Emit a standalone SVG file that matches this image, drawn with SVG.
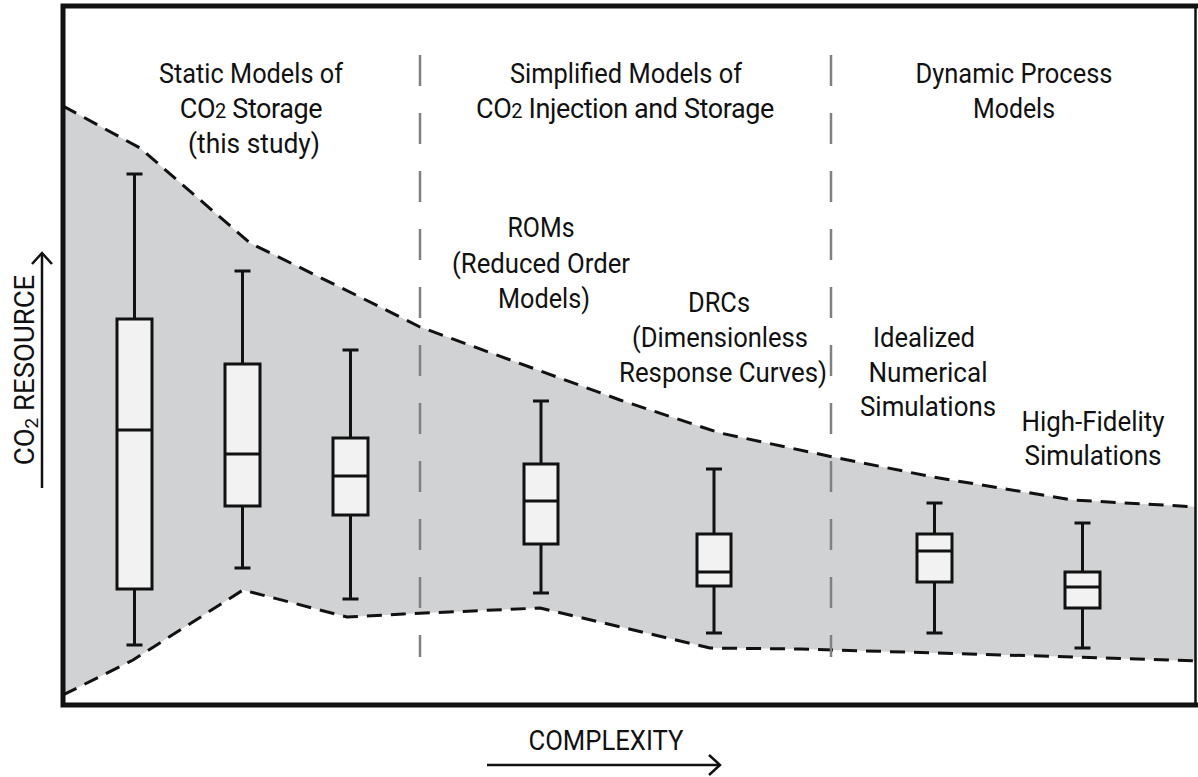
<svg xmlns="http://www.w3.org/2000/svg" width="1198" height="777" viewBox="0 0 1198 777">
  <defs>
    <style>
      .lbl { font-family: Roboto, "Liberation Sans", sans-serif; font-size: 27.5px; fill: #111; text-anchor: middle; }
      .co2 { font-size: 27px; letter-spacing: -0.4px; }
      .bound { fill: none; stroke: #111; stroke-width: 3; stroke-dasharray: 15 9; stroke-linejoin: round; }
      .divider { stroke: #808080; stroke-width: 2.5; stroke-dasharray: 31 27; }
      .box { fill: #f2f2f2; stroke: #111; stroke-width: 3; }
      .wh { stroke: #111; stroke-width: 3; fill: none; }
      .axis { stroke: #111; stroke-width: 2.5; fill: none; }
    </style>
    <marker id="open-arrow" viewBox="0 0 14 22" refX="12" refY="11" markerWidth="14" markerHeight="22" markerUnits="userSpaceOnUse" orient="auto">
      <path d="M1,1 L12,11 L1,21" fill="none" stroke="#111" stroke-width="2.5"/>
    </marker>
    <clipPath id="plot-area">
      <rect x="63" y="6" width="1132" height="699"/>
    </clipPath>
  </defs>

  <rect x="0" y="0" width="1198" height="777" fill="#ffffff"/>

  <!-- uncertainty envelope -->
  <g id="envelope" clip-path="url(#plot-area)">
    <path fill="#d1d2d4" d="M63,106 L140,148 L250,243 L360,297 L420,327 L620,400 L720,433 L833,457 L933,477 L1073,500 L1198,507 L1198,661 L1073,657 L800,649 L710,648 L540,608 L403,614 L347,617 L243,590 L133,660 L63,695 Z"/>
    <path class="bound" d="M63,106 L140,148 L250,243 L360,297 L420,327 L620,400 L720,433 L833,457 L933,477 L1073,500 L1198,507"/>
    <path class="bound" d="M63,695 L133,660 L243,590 L347,617 L403,614 L540,608 L710,648 L800,649 L1073,657 L1198,661"/>
  </g>

  <!-- category dividers -->
  <g id="dividers">
    <line class="divider" x1="420" y1="55" x2="420" y2="657"/>
    <line class="divider" x1="831" y1="55" x2="831" y2="657"/>
  </g>

  <!-- frame -->
  <g id="frame">
    <path d="M1198,6 H63 V705 H1198" fill="none" stroke="#111" stroke-width="5"/>
    <line x1="1195.5" y1="6" x2="1195.5" y2="705" stroke="#111" stroke-width="2.5"/>
  </g>

  <!-- box plots -->
  <g id="box-static-1">
    <path class="wh" d="M134.5,174 V319 M134.5,589 V645 M126.5,174 H142.5 M126.5,645 H142.5"/>
    <rect class="box" x="117" y="319" width="35" height="270"/>
    <line class="wh" x1="117" y1="430" x2="152" y2="430"/>
  </g>
  <g id="box-static-2">
    <path class="wh" d="M242.5,271 V364 M242.5,506 V568 M234.5,271 H250.5 M234.5,568 H250.5"/>
    <rect class="box" x="225" y="364" width="35" height="142"/>
    <line class="wh" x1="225" y1="454" x2="260" y2="454"/>
  </g>
  <g id="box-static-3">
    <path class="wh" d="M350.5,350 V438 M350.5,515 V599 M342.5,350 H358.5 M342.5,599 H358.5"/>
    <rect class="box" x="333" y="438" width="35" height="77"/>
    <line class="wh" x1="333" y1="476" x2="368" y2="476"/>
  </g>
  <g id="box-roms">
    <path class="wh" d="M541,401 V464 M541,544 V593 M533,401 H549 M533,593 H549"/>
    <rect class="box" x="524" y="464" width="34" height="80"/>
    <line class="wh" x1="524" y1="501" x2="558" y2="501"/>
  </g>
  <g id="box-drcs">
    <path class="wh" d="M714,469 V534 M714,586 V633 M706,469 H722 M706,633 H722"/>
    <rect class="box" x="697" y="534" width="34" height="52"/>
    <line class="wh" x1="697" y1="572" x2="731" y2="572"/>
  </g>
  <g id="box-idealized">
    <path class="wh" d="M934.5,503 V534 M934.5,582 V633 M926.5,503 H942.5 M926.5,633 H942.5"/>
    <rect class="box" x="917" y="534" width="35" height="48"/>
    <line class="wh" x1="917" y1="551" x2="952" y2="551"/>
  </g>
  <g id="box-high-fidelity">
    <path class="wh" d="M1082.5,523 V572 M1082.5,608 V648 M1074.5,523 H1090.5 M1074.5,648 H1090.5"/>
    <rect class="box" x="1065" y="572" width="35" height="36"/>
    <line class="wh" x1="1065" y1="587" x2="1100" y2="587"/>
  </g>

  <!-- category headings -->
  <g id="heading-static">
    <text class="lbl" x="251" y="83" textLength="184" lengthAdjust="spacingAndGlyphs">Static Models of</text>
    <text class="lbl co2" x="251" y="118">CO<tspan font-size="20">2</tspan> Storage</text>
    <text class="lbl" x="254" y="153" textLength="132" lengthAdjust="spacingAndGlyphs">(this study)</text>
  </g>
  <g id="heading-simplified">
    <text class="lbl" x="626" y="83" textLength="232" lengthAdjust="spacingAndGlyphs">Simplified Models of</text>
    <text class="lbl co2" x="625" y="118">CO<tspan font-size="20">2</tspan> Injection and Storage</text>
  </g>
  <g id="heading-dynamic">
    <text class="lbl" x="1014" y="83" textLength="197" lengthAdjust="spacingAndGlyphs">Dynamic Process</text>
    <text class="lbl" x="1014" y="118" textLength="82" lengthAdjust="spacingAndGlyphs">Models</text>
  </g>

  <!-- model labels -->
  <g id="label-roms">
    <text class="lbl" x="541" y="237" textLength="67" lengthAdjust="spacingAndGlyphs">ROMs</text>
    <text class="lbl" x="541" y="273" textLength="178" lengthAdjust="spacingAndGlyphs">(Reduced Order</text>
    <text class="lbl" x="544" y="308" textLength="92" lengthAdjust="spacingAndGlyphs">Models)</text>
  </g>
  <g id="label-drcs">
    <text class="lbl" x="719" y="312" textLength="62" lengthAdjust="spacingAndGlyphs">DRCs</text>
    <text class="lbl" x="720" y="347" textLength="176" lengthAdjust="spacingAndGlyphs">(Dimensionless</text>
    <text class="lbl" x="723" y="382" textLength="208" lengthAdjust="spacingAndGlyphs">Response Curves)</text>
  </g>
  <g id="label-idealized">
    <text class="lbl" x="924" y="347" textLength="102" lengthAdjust="spacingAndGlyphs">Idealized</text>
    <text class="lbl" x="928" y="382" textLength="119" lengthAdjust="spacingAndGlyphs">Numerical</text>
    <text class="lbl" x="928" y="416" textLength="136" lengthAdjust="spacingAndGlyphs">Simulations</text>
  </g>
  <g id="label-high-fidelity">
    <text class="lbl" x="1093" y="431" textLength="143" lengthAdjust="spacingAndGlyphs">High-Fidelity</text>
    <text class="lbl" x="1093" y="465" textLength="137" lengthAdjust="spacingAndGlyphs">Simulations</text>
  </g>

  <!-- axes -->
  <g id="connectors">
    <line class="axis" x1="42" y1="488" x2="42" y2="253" marker-end="url(#open-arrow)"/>
    <line class="axis" x1="487" y1="765" x2="720" y2="765" marker-end="url(#open-arrow)"/>
  </g>
  <g id="axis-labels">
    <text class="lbl" transform="translate(33.5,370) rotate(-90)" x="0" y="0">CO<tspan font-size="19" dy="4">2</tspan><tspan dy="-4"> RESOURCE</tspan></text>
    <text class="lbl" x="606" y="750" textLength="155" lengthAdjust="spacingAndGlyphs">COMPLEXITY</text>
  </g>
</svg>
